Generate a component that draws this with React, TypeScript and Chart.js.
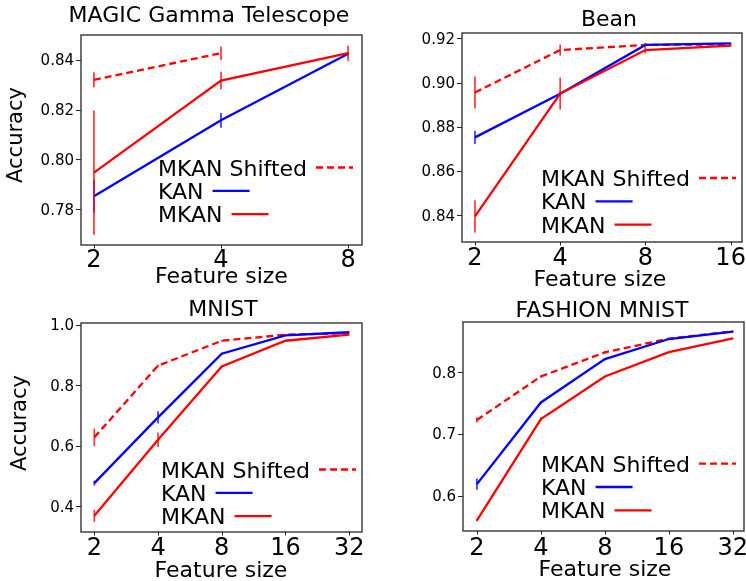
import { useEffect, useRef } from "react";
import { Chart, registerables } from "chart.js";

Chart.register(...registerables);

const FIG_W = 746;
const FIG_H = 581;
const FONT_FAMILY = "'DejaVu Sans', 'Liberation Sans', sans-serif";

// ---------------- data ----------------
const seriesLabels = ["MKAN Shifted", "KAN", "MKAN"];
const yAxisTitle = "Accuracy";
const xAxisTitle = "Feature size";

const magicTitle = "MAGIC Gamma Telescope";
const magicSizes = [2, 4, 8];
const magicShiftedSizes = [2, 4];
const magicShifted = [0.832, 0.8427];
const magicShiftedErr = [0.003, 0.0027];
const magicKan = [0.7852, 0.8157, 0.8425];
const magicKanErr = [0.0066, 0.003, 0.0005];
const magicMkan = [0.7947, 0.8317, 0.8427];
const magicMkanErr = [0.025, 0.0035, 0.003];
const magicYTicks = [0.78, 0.8, 0.82, 0.84];

const beanTitle = "Bean";
const beanSizes = [2, 4, 8, 16];
const beanShifted = [0.8955, 0.9147, 0.917, 0.9173];
const beanShiftedErr = [0.0072, 0.0025, 0.0005, 0.0003];
const beanKan = [0.8752, 0.8949, 0.917, 0.9177];
const beanKanErr = [0.003, 0.001, 0.0008, 0.0003];
const beanMkan = [0.8395, 0.895, 0.9147, 0.9167];
const beanMkanErr = [0.0073, 0.0072, 0.0015, 0.0005];
const beanYTicks = [0.84, 0.86, 0.88, 0.9, 0.92];

const mnistTitle = "MNIST";
const mnistSizes = [2, 4, 8, 16, 32];
const mnistShifted = [0.628, 0.8646, 0.947, 0.967, 0.972];
const mnistShiftedErr = [0.029, 0.004, 0.003, 0.002, 0.001];
const mnistKan = [0.477, 0.694, 0.904, 0.965, 0.975];
const mnistKanErr = [0.008, 0.02, 0.003, 0.002, 0.001];
const mnistMkan = [0.369, 0.62, 0.862, 0.947, 0.967];
const mnistMkanErr = [0.02, 0.024, 0.003, 0.002, 0.001];
const mnistYTicks = [0.4, 0.6, 0.8, 1.0];

const fashionTitle = "FASHION MNIST";
const fashionSizes = [2, 4, 8, 16, 32];
const fashionShifted = [0.7227, 0.793, 0.832, 0.854, 0.866];
const fashionShiftedErr = [0.004, 0.002, 0.002, 0.001, 0.001];
const fashionKan = [0.619, 0.751, 0.821, 0.8535, 0.8654];
const fashionKanErr = [0.009, 0.002, 0.002, 0.001, 0.001];
const fashionMkan = [0.5605, 0.724, 0.793, 0.8324, 0.8546];
const fashionMkanErr = [0.002, 0.003, 0.001, 0.001, 0.001];
const fashionYTicks = [0.6, 0.7, 0.8];

// ---------------- styles ----------------
const RED = "#ff0000";
const BLUE = "#0000ff";
const RED_ERR = "rgba(255,0,0,0.8)";
const BLUE_ERR = "rgba(0,0,255,0.8)";
const DASH = [7, 4];
const LINE_W = 2.3;

type Series = {
  label: string;
  xs: number[];
  ys: number[];
  err: number[];
  color: string;
  errColor: string;
  dash: number[];
  order: number;
};

type Panel = {
  title: string;
  sizes: number[];
  yTicks: number[];
  yDecimals: number;
  series: Series[];
  area: { l: number; r: number; t: number; b: number };
  xRange: [number, number];
  yRange: [number, number];
  titleX: number;
  titleBase: number;
  xTickBase: number;
  xTitleX: number;
  xTitleBase: number;
  yTitle: { x: number; y: number } | null;
  yLabelRight: number;
  legendX: number;
  legendY: number;
};

const mkSeries = (
  xsShift: number[], shifted: number[], shiftedErr: number[],
  xs: number[], kan: number[], kanErr: number[], mkan: number[], mkanErr: number[]
): Series[] => [
  { label: seriesLabels[0], xs: xsShift, ys: shifted, err: shiftedErr, color: RED, errColor: RED_ERR, dash: DASH, order: 3 },
  { label: seriesLabels[1], xs, ys: kan, err: kanErr, color: BLUE, errColor: BLUE_ERR, dash: [], order: 2 },
  { label: seriesLabels[2], xs, ys: mkan, err: mkanErr, color: RED, errColor: RED_ERR, dash: [], order: 1 },
];

const panels: Panel[] = [
  {
    title: magicTitle, sizes: magicSizes, yTicks: magicYTicks, yDecimals: 2,
    series: mkSeries(magicShiftedSizes, magicShifted, magicShiftedErr, magicSizes, magicKan, magicKanErr, magicMkan, magicMkanErr),
    area: { l: 81, r: 362, t: 35, b: 245 },
    xRange: [1.864, 8.63], yRange: [0.7656, 0.85],
    titleX: 209, titleBase: 22, xTickBase: 266.5, xTitleX: 221.5, xTitleBase: 282.5,
    yTitle: { x: 22, y: 135 }, yLabelRight: 74, legendX: 158, legendY: 167.5,
  },
  {
    title: beanTitle, sizes: beanSizes, yTicks: beanYTicks, yDecimals: 2,
    series: mkSeries(beanSizes, beanShifted, beanShiftedErr, beanSizes, beanKan, beanKanErr, beanMkan, beanMkanErr),
    area: { l: 462, r: 742, t: 33, b: 242 },
    xRange: [1.8, 17.55], yRange: [0.8279, 0.9224],
    titleX: 609, titleBase: 26, xTickBase: 265, xTitleX: 600, xTitleBase: 286,
    yTitle: null, yLabelRight: 455, legendX: 541, legendY: 178,
  },
  {
    title: mnistTitle, sizes: mnistSizes, yTicks: mnistYTicks, yDecimals: 1,
    series: mkSeries(mnistSizes, mnistShifted, mnistShiftedErr, mnistSizes, mnistKan, mnistKanErr, mnistMkan, mnistMkanErr),
    area: { l: 81, r: 362, t: 323, b: 532 },
    xRange: [1.73, 36.8], yRange: [0.3155, 1.0056],
    titleX: 223, titleBase: 316, xTickBase: 555, xTitleX: 221, xTitleBase: 576.5,
    yTitle: { x: 26, y: 423 }, yLabelRight: 74, legendX: 161, legendY: 469.5,
  },
  {
    title: fashionTitle, sizes: fashionSizes, yTicks: fashionYTicks, yDecimals: 1,
    series: mkSeries(fashionSizes, fashionShifted, fashionShiftedErr, fashionSizes, fashionKan, fashionKanErr, fashionMkan, fashionMkanErr),
    area: { l: 463, r: 744, t: 322, b: 531 },
    xRange: [1.72, 36.1], yRange: [0.5433, 0.881],
    titleX: 602, titleBase: 316.5, xTickBase: 555, xTitleX: 605, xTitleBase: 576,
    yTitle: null, yLabelRight: 456, legendX: 541, legendY: 463.7,
  },
];

const Y_SCALE_W = 10;
const X_SCALE_H = 10;

const font = (px: number) => `${px}px ${FONT_FAMILY}`;

function makeDecor(p: Panel) {
  return {
    id: "panelDecor",
    afterDatasetsDraw(chart: any) {
      const xs = chart.scales.x;
      const ys = chart.scales.y;
      const ctx: CanvasRenderingContext2D = chart.ctx;
      ctx.save();
      ctx.lineWidth = 1.7;
      ctx.lineCap = "butt";
      p.series.forEach((s) => {
        ctx.strokeStyle = s.errColor;
        s.xs.forEach((xv, i) => {
          if (!s.err[i]) return;
          const px = xs.getPixelForValue(xv);
          ctx.beginPath();
          ctx.moveTo(px, ys.getPixelForValue(s.ys[i] - s.err[i]));
          ctx.lineTo(px, ys.getPixelForValue(s.ys[i] + s.err[i]));
          ctx.stroke();
        });
      });
      ctx.restore();
    },
    afterDraw(chart: any) {
      const ctx: CanvasRenderingContext2D = chart.ctx;
      const a = chart.chartArea;
      const xs = chart.scales.x;
      const ys = chart.scales.y;
      ctx.save();
      // frame
      ctx.strokeStyle = "#262626";
      ctx.lineWidth = 1.3;
      ctx.strokeRect(a.left, a.top, a.right - a.left, a.bottom - a.top);
      // tick marks
      ctx.lineWidth = 1;
      ctx.strokeStyle = "#262626";
      p.yTicks.forEach((v) => {
        const py = Math.round(ys.getPixelForValue(v)) + 0.5;
        ctx.beginPath();
        ctx.moveTo(a.left - 5, py);
        ctx.lineTo(a.left, py);
        ctx.stroke();
      });
      p.sizes.forEach((v) => {
        const px = Math.round(xs.getPixelForValue(v)) + 0.5;
        ctx.beginPath();
        ctx.moveTo(px, a.bottom);
        ctx.lineTo(px, a.bottom + 3.5);
        ctx.stroke();
      });
      ctx.fillStyle = "#000";
      // y tick labels
      ctx.font = font(15);
      ctx.textAlign = "right";
      ctx.textBaseline = "alphabetic";
      p.yTicks.forEach((v) => {
        const py = ys.getPixelForValue(v);
        ctx.fillText(v.toFixed(p.yDecimals), p.yLabelRight, py + 5.4);
      });
      // x tick labels
      ctx.font = font(24);
      ctx.textAlign = "center";
      p.sizes.forEach((v) => {
        ctx.fillText(String(v), xs.getPixelForValue(v), p.xTickBase);
      });
      // title
      ctx.font = font(22);
      ctx.fillText(p.title, p.titleX, p.titleBase);
      // x title
      ctx.font = font(22);
      ctx.fillText(xAxisTitle, p.xTitleX, p.xTitleBase);
      // y title
      if (p.yTitle) {
        ctx.save();
        ctx.translate(p.yTitle.x, p.yTitle.y);
        ctx.rotate(-Math.PI / 2);
        ctx.font = font(21);
        ctx.textAlign = "center";
        ctx.fillText(yAxisTitle, 0, 0);
        ctx.restore();
      }
      // legend: text followed by handle
      ctx.font = font(22);
      ctx.textAlign = "left";
      const rowGap = 23.3;
      p.series.forEach((s, i) => {
        const cy = p.legendY + i * rowGap;
        ctx.fillStyle = "#000";
        ctx.fillText(s.label, p.legendX, cy + 8);
        const w = ctx.measureText(s.label).width;
        const x0 = p.legendX + w + 9;
        ctx.save();
        ctx.strokeStyle = s.color;
        ctx.lineWidth = LINE_W;
        ctx.setLineDash(s.dash);
        ctx.beginPath();
        ctx.moveTo(x0, cy);
        ctx.lineTo(x0 + 37, cy);
        ctx.stroke();
        ctx.restore();
      });
      ctx.restore();
    },
  };
}

function PanelChart({ panel }: { panel: Panel }) {
  const ref = useRef<HTMLCanvasElement | null>(null);
  useEffect(() => {
    if (!ref.current) return;
    const p = panel;
    const chart = new Chart(ref.current, {
      type: "line",
      data: {
        datasets: p.series.map((s) => ({
          label: s.label,
          data: s.xs.map((x, i) => ({ x, y: s.ys[i] })),
          borderColor: s.color,
          backgroundColor: s.color,
          borderWidth: LINE_W,
          borderDash: s.dash,
          pointRadius: 0,
          pointHoverRadius: 0,
          fill: false,
          tension: 0,
          order: s.order,
        })),
      },
      options: {
        responsive: false,
        animation: false,
        events: [],
        layout: {
          padding: {
            left: p.area.l - Y_SCALE_W,
            right: FIG_W - p.area.r,
            top: p.area.t,
            bottom: FIG_H - p.area.b - X_SCALE_H,
          },
        },
        plugins: {
          legend: { display: false },
          title: { display: false },
          tooltip: { enabled: false },
        },
        scales: {
          x: {
            type: "logarithmic",
            min: p.xRange[0],
            max: p.xRange[1],
            afterBuildTicks: (sc: any) => {
              sc.ticks = p.sizes.map((v) => ({ value: v }));
            },
            afterFit: (sc: any) => {
              sc.height = X_SCALE_H;
            },
            ticks: { display: false },
            grid: { display: false },
            border: { display: false },
          },
          y: {
            type: "linear",
            min: p.yRange[0],
            max: p.yRange[1],
            afterBuildTicks: (sc: any) => {
              sc.ticks = p.yTicks.map((v) => ({ value: v }));
            },
            afterFit: (sc: any) => {
              sc.width = Y_SCALE_W;
            },
            ticks: { display: false },
            grid: { display: false },
            border: { display: false },
          },
        },
      } as any,
      plugins: [makeDecor(p)],
    });
    return () => chart.destroy();
  }, [panel]);
  return (
    <canvas
      ref={ref}
      width={FIG_W}
      height={FIG_H}
      style={{ position: "absolute", left: 0, top: 0, width: FIG_W, height: FIG_H }}
    />
  );
}

export default function App() {
  return (
    <div
      style={{
        position: "absolute",
        left: 0,
        top: 0,
        width: FIG_W,
        height: FIG_H,
        background: "#fff",
        overflow: "hidden",
      }}
    >
      {panels.map((p) => (
        <PanelChart key={p.title} panel={p} />
      ))}
    </div>
  );
}
